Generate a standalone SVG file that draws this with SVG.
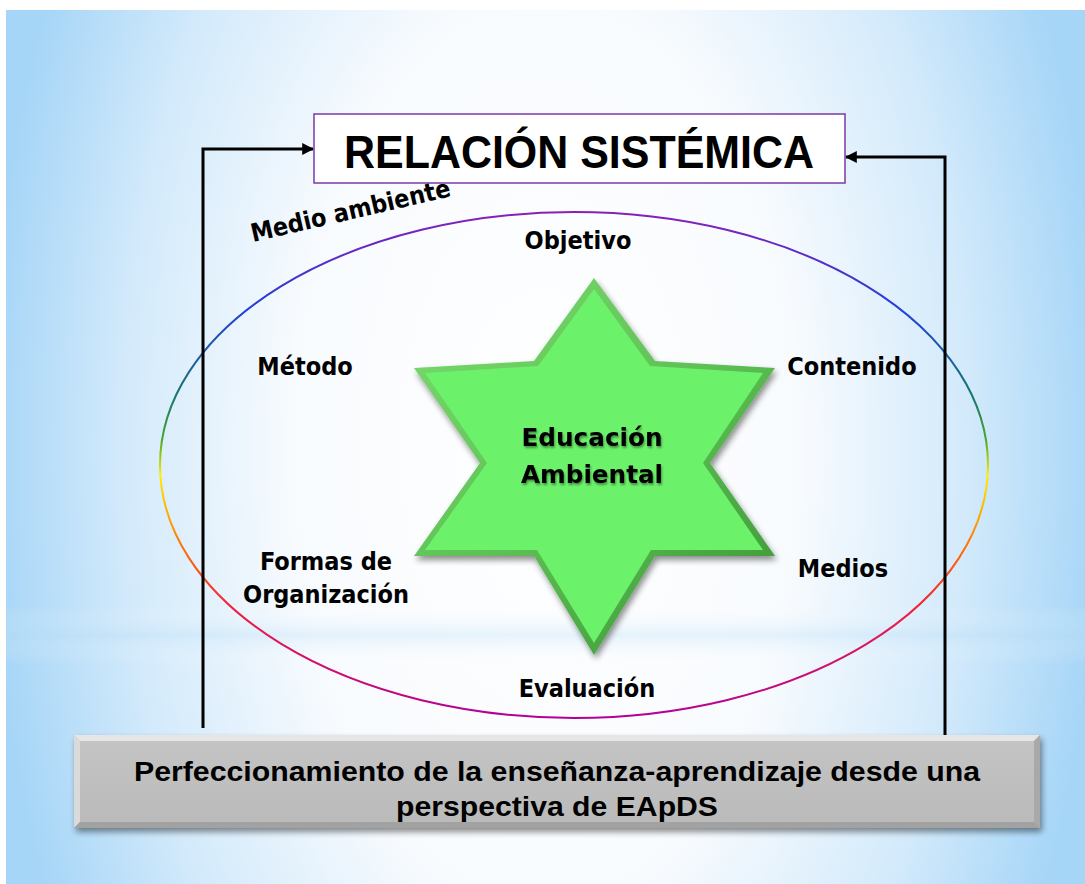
<svg xmlns="http://www.w3.org/2000/svg" width="1085" height="884" viewBox="0 0 1085 884">
<defs>
<radialGradient id="bg" gradientUnits="userSpaceOnUse" cx="545" cy="450" r="560" gradientTransform="translate(545 450) scale(1 1.8) translate(-545 -450)">
<stop offset="0" stop-color="#ffffff"/>
<stop offset="0.45" stop-color="#f8fbfe"/>
<stop offset="0.75" stop-color="#d3eafb"/>
<stop offset="1" stop-color="#a5d5f7"/>
</radialGradient>
<linearGradient id="band" x1="0" y1="0" x2="0" y2="1">
<stop offset="0" stop-color="#ffffff" stop-opacity="0"/>
<stop offset="0.5" stop-color="#bcdff7" stop-opacity="0.35"/>
<stop offset="1" stop-color="#ffffff" stop-opacity="0"/>
</linearGradient>
<linearGradient id="ring" gradientUnits="userSpaceOnUse" x1="0" y1="210" x2="0" y2="720">
<stop offset="0" stop-color="#8a1fb8"/>
<stop offset="0.2" stop-color="#1f3fd8"/>
<stop offset="0.37" stop-color="#1a7a6a"/>
<stop offset="0.45" stop-color="#4aa52a"/>
<stop offset="0.52" stop-color="#ffee00"/>
<stop offset="0.65" stop-color="#ff7a00"/>
<stop offset="0.78" stop-color="#f0203c"/>
<stop offset="1" stop-color="#b0009a"/>
</linearGradient>
<linearGradient id="bevel" gradientUnits="userSpaceOnUse" x1="450" y1="300" x2="740" y2="630">
<stop offset="0" stop-color="#78d86c"/>
<stop offset="0.5" stop-color="#5ec055"/>
<stop offset="1" stop-color="#3f9a38"/>
</linearGradient>
<linearGradient id="boxg" x1="0" y1="0" x2="0" y2="1">
<stop offset="0" stop-color="#c4c4c4"/>
<stop offset="1" stop-color="#bababa"/>
</linearGradient>
<filter id="sh" x="-10%" y="-10%" width="130%" height="130%">
<feGaussianBlur in="SourceAlpha" stdDeviation="3"/>
<feOffset dx="2" dy="4" result="b"/>
<feComponentTransfer><feFuncA type="linear" slope="0.45"/></feComponentTransfer>
<feMerge><feMergeNode/><feMergeNode in="SourceGraphic"/></feMerge>
</filter>
<filter id="tsh" x="-10%" y="-20%" width="130%" height="150%">
<feGaussianBlur in="SourceAlpha" stdDeviation="1"/>
<feOffset dx="1" dy="1.5"/>
<feComponentTransfer><feFuncA type="linear" slope="0.4"/></feComponentTransfer>
<feMerge><feMergeNode/><feMergeNode in="SourceGraphic"/></feMerge>
</filter>
<marker id="ah" viewBox="0 0 10 10" refX="9" refY="5" markerWidth="4" markerHeight="4" orient="auto" markerUnits="strokeWidth">
<path d="M0,0 L10,5 L0,10 z" fill="#000"/>
</marker>
</defs>
<style>
.lbl{font-family:"DejaVu Sans Condensed","DejaVu Sans",Tahoma,sans-serif;font-weight:bold;font-size:25px;fill:#000;text-anchor:middle}
.conn{fill:none;stroke:#000;stroke-width:3}
.arial{font-family:"Liberation Sans",Arial,sans-serif;font-weight:bold;fill:#000;text-anchor:middle}
</style>
<rect x="0" y="0" width="1085" height="884" fill="#ffffff"/>
<rect x="6" y="10" width="1079" height="874" fill="url(#bg)"/>
<rect x="6" y="605" width="1079" height="60" fill="url(#band)"/>

<g id="ellipse">
<ellipse cx="574" cy="465" rx="414" ry="253" fill="none" stroke="url(#ring)" stroke-width="2"/>
</g>

<g id="connectors">
<polyline class="conn" points="203,728 203,149 313,149" marker-end="url(#ah)"/>
<polyline class="conn" points="945,740 945,157 846,157" marker-end="url(#ah)"/>
</g>

<g id="title">
<rect x="314" y="114" width="531" height="69" fill="#ffffff" stroke="#7a3aa8" stroke-width="1.5"/>
<text class="arial" x="579" y="168" font-size="46" textLength="470" lengthAdjust="spacingAndGlyphs">RELACIÓN SISTÉMICA</text>
</g>

<g id="medio-ambiente">
<text class="lbl" x="0" y="0" style="text-anchor:start" transform="translate(253 242) rotate(-13)" textLength="204" lengthAdjust="spacingAndGlyphs">Medio ambiente</text>
</g>

<g id="star" filter="url(#sh)">
<polygon points="594,278 655,361 775,368 710,463 775,556 655,556 594,655 534,556 414,556 480,463 414,368 534,361" fill="url(#bevel)"/>
<polygon points="594,289 650,366 763,373 703,463 763,550 651,550 594,643 537,550 425,550 487,463 425,373 538,366" fill="#6cf26a"/>
<text class="lbl" x="592" y="446" font-size="28" filter="url(#tsh)" fill="#111" textLength="141" lengthAdjust="spacingAndGlyphs">Educación</text>
<text class="lbl" x="592" y="483" font-size="28" filter="url(#tsh)" fill="#111" textLength="142" lengthAdjust="spacingAndGlyphs">Ambiental</text>
</g>

<g id="objetivo"><text class="lbl" x="578" y="249">Objetivo</text></g>
<g id="metodo"><text class="lbl" x="305" y="375">Método</text></g>
<g id="contenido"><text class="lbl" x="852" y="375">Contenido</text></g>
<g id="formas"><text class="lbl" x="326" y="570">Formas de</text><text class="lbl" x="326" y="603">Organización</text></g>
<g id="medios"><text class="lbl" x="843" y="577">Medios</text></g>
<g id="evaluacion"><text class="lbl" x="587" y="697">Evaluación</text></g>

<g id="perfeccionamiento">
<g filter="url(#sh)">
<rect x="74" y="735" width="966" height="93" fill="url(#boxg)"/>
<polygon points="74,735 1040,735 1034,741 80,741" fill="#e6e6e6"/>
<polygon points="74,735 80,741 80,822 74,828" fill="#dadada"/>
<polygon points="1040,735 1040,828 1034,822 1034,741" fill="#a9a9a9"/>
<polygon points="74,828 80,822 1034,822 1040,828" fill="#a2a2a2"/>
</g>
<text class="arial" x="557" y="781" font-size="27" textLength="846" lengthAdjust="spacingAndGlyphs">Perfeccionamiento de la enseñanza-aprendizaje desde una</text>
<text class="arial" x="557" y="816" font-size="27" textLength="322" lengthAdjust="spacingAndGlyphs">perspectiva de EApDS</text>
</g>
</svg>
